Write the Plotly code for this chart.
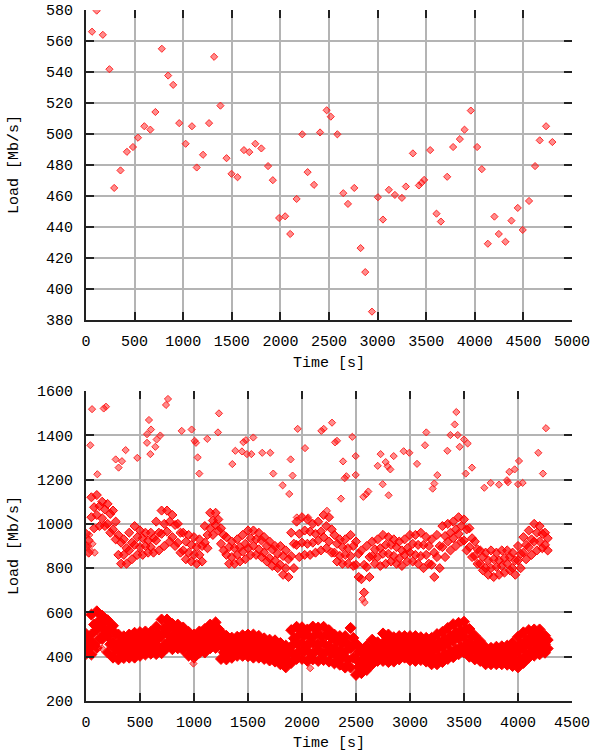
import plotly.graph_objects as go

# ---------------- top chart data ----------------
top_time = [62, 110, 173, 241, 290, 355, 421, 483, 535, 600, 662, 714, 780, 845, 897, 959,
            1025, 1090, 1139, 1204, 1266, 1318, 1383, 1446, 1497, 1559, 1625, 1680, 1742, 1804,
            1873, 1922, 1987, 2049, 2101, 2167, 2225, 2280, 2346, 2408, 2476, 2518, 2586, 2647,
            2695, 2760, 2825, 2873, 2942, 3003, 3055, 3116, 3178, 3250, 3291, 3363, 3425, 3452,
            3479, 3541, 3606, 3651, 3716, 3777, 3846, 3894, 3959, 4024, 4072, 4134, 4202, 4247,
            4315, 4377, 4442, 4493, 4558, 4620, 4668, 4733, 4798]
top_load = [566, 579.6, 564, 541.8, 465.2, 476.5, 488.5, 491.6, 497.6, 505, 502.8, 514.2, 555,
            537.7, 531.7, 507, 493.7, 505, 478.4, 486.6, 507, 549.8, 518.3, 484.4, 474.3, 472.1,
            489.6, 488.3, 493.7, 490.7, 479.3, 470.2, 445.8, 446.9, 435.5, 458.1, 499.8, 475.4,
            467.2, 501, 515.3, 511.2, 499.8, 461.8, 454.9, 465.2, 426.4, 410.9, 385.4, 459.2,
            444.8, 464, 460.7, 458.8, 466.1, 487.5, 466.8, 468.5, 470.4, 489.6, 448.6, 443.5,
            472.4, 491.6, 496.7, 502.8, 515.1, 491.6, 477.3, 429.2, 446.7, 435.5, 430.5, 444.1,
            452.3, 438.1, 456.8, 479.3, 495.9, 505, 494.8]

# ---------------- bottom chart data ----------------
# sample times (s) of the banded measurements, every 50 s
band_time = list(range(0, 4251, 50))
band_time_off = [t + 25 for t in band_time]

low_top = [503, 590, 605, 585, 565, 540, 500, 492, 500, 508,
           511, 514, 512, 535, 568, 568, 548, 545, 532, 512,
           500, 514, 525, 545, 555, 512, 494, 486, 490, 497,
           500, 500, 494, 483, 477, 474, 462, 450, 520, 535,
           533, 523, 536, 532, 535, 520, 500, 493, 493, 530,
           460, 435, 450, 477, 465, 505, 500, 488, 493, 493,
           493, 493, 488, 485, 485, 502, 512, 530, 547, 553,
           558, 525, 495, 470, 442, 440, 445, 447, 450, 463,
           490, 510, 520, 523, 523, 495]
low_2 = [480, 545, 564, 559, 529, 504, 472, 468, 474, 480,
         484, 488, 488, 504, 530, 536, 520, 518, 506, 485,
         474, 490, 498, 518, 526, 482, 468, 463, 468, 474,
         476, 474, 470, 460, 454, 450, 438, 426, 483, 499,
         497, 488, 499, 494, 497, 484, 468, 461, 458, 485,
         424, 408, 422, 449, 444, 474, 469, 460, 467, 469,
         466, 465, 462, 458, 455, 468, 478, 495, 510, 518,
         523, 494, 468, 448, 423, 422, 425, 427, 429, 437,
         456, 476, 489, 493, 495, 476]
low_3 = [458, 500, 523, 533, 492, 468, 444, 443, 448, 452,
         458, 462, 463, 474, 492, 504, 491, 492, 481, 458,
         448, 466, 472, 492, 498, 451, 441, 440, 447, 450,
         451, 448, 445, 436, 430, 426, 414, 401, 446, 462,
         462, 452, 462, 456, 460, 449, 435, 428, 422, 440,
         389, 380, 395, 422, 423, 443, 438, 433, 440, 444,
         438, 437, 436, 432, 426, 434, 444, 460, 472, 482,
         488, 462, 442, 426, 404, 403, 406, 406, 407, 410,
         421, 441, 458, 464, 467, 456]
low_4 = [435, 455, 481, 506, 456, 432, 416, 418, 422, 424,
         431, 436, 438, 443, 454, 472, 462, 465, 456, 432,
         422, 442, 446, 465, 469, 420, 414, 418, 426, 427,
         426, 422, 420, 413, 406, 402, 390, 376, 409, 426,
         426, 416, 425, 419, 422, 414, 402, 396, 386, 396,
         354, 353, 368, 394, 402, 412, 407, 406, 414, 420,
         411, 409, 411, 405, 396, 400, 410, 425, 435, 446,
         454, 431, 415, 403, 385, 384, 386, 386, 386, 384,
         386, 407, 427, 434, 439, 437]
low_bot = [412, 410, 440, 480, 419, 396, 388, 394, 396, 396,
           404, 410, 414, 412, 416, 440, 434, 438, 430, 405,
           396, 418, 419, 438, 440, 390, 388, 395, 404, 404,
           402, 396, 396, 390, 383, 378, 366, 352, 372, 390,
           390, 381, 388, 381, 385, 378, 370, 364, 351, 351,
           318, 326, 340, 366, 381, 381, 376, 378, 388, 396,
           384, 381, 385, 378, 366, 366, 376, 390, 398, 411,
           419, 400, 388, 381, 366, 366, 366, 366, 364, 358,
           352, 372, 396, 405, 411, 418]

mid_top = [955, 1120, 1130, 1100, 1090, 1060, 950, 930, 960, 990,
           970, 960, 960, 1010, 1060, 1060, 1040, 1000, 960, 950,
           940, 930, 990, 1050, 1050, 980, 940, 920, 930, 950,
           970, 970, 960, 940, 920, 900, 900, 880, 960, 1010,
           1030, 1020, 1000, 1010, 1040, 1030, 950, 930, 930, 950,
           920, 880, 900, 920, 930, 950, 940, 930, 920, 930,
           950, 950, 960, 940, 930, 950, 990, 1000, 1010, 1030,
           1020, 980, 920, 880, 870, 880, 870, 880, 880, 870,
           900, 940, 970, 1000, 990, 960]
mid_2 = [925, 1075, 1080, 1065, 1045, 1010, 915, 890, 915, 940,
         935, 925, 935, 960, 1000, 1010, 995, 960, 920, 905,
         895, 900, 950, 1015, 1020, 950, 895, 890, 895, 910,
         935, 930, 925, 900, 885, 865, 855, 840, 910, 955,
         970, 965, 955, 965, 990, 975, 910, 895, 890, 900,
         865, 815, 850, 885, 890, 905, 905, 895, 880, 890,
         910, 905, 905, 900, 870, 900, 945, 960, 975, 990,
         975, 935, 885, 850, 835, 840, 835, 845, 850, 835,
         865, 905, 930, 960, 955, 935]
mid_3 = [900, 1030, 1040, 1025, 1000, 975, 860, 860, 880, 905,
         895, 900, 895, 925, 955, 965, 940, 915, 880, 870,
         860, 860, 915, 980, 995, 910, 860, 850, 860, 875,
         890, 900, 885, 870, 845, 835, 815, 800, 855, 905,
         915, 910, 915, 925, 940, 920, 870, 855, 860, 855,
         815, 750, 805, 855, 850, 865, 865, 855, 845, 860,
         870, 860, 855, 860, 815, 850, 895, 920, 935, 955,
         925, 895, 855, 820, 800, 800, 805, 810, 820, 800,
         835, 870, 895, 920, 920, 905]
mid_bot = [870, 980, 990, 990, 960, 930, 820, 820, 840, 860,
           860, 870, 870, 880, 900, 920, 900, 870, 840, 830,
           820, 830, 890, 950, 970, 880, 820, 820, 830, 840,
           860, 860, 850, 830, 810, 800, 770, 760, 800, 850,
           860, 860, 870, 880, 890, 870, 830, 820, 820, 810,
           760, 690, 760, 820, 810, 820, 830, 820, 810, 830,
           830, 820, 800, 820, 760, 800, 850, 880, 900, 920,
           880, 850, 820, 790, 770, 760, 770, 780, 790, 770,
           800, 840, 860, 880, 890, 880]

extra_time = [20, 40, 60, 80, 30, 150, 995, 2076, 1952, 2057, 2231, 2560, 2580]
extra_load = [900, 880, 910, 870, 950, 437, 369, 348, 1029, 1029, 1059, 660, 645]

peak_time = [40, 56, 105, 164, 185, 275, 302, 333, 367, 475, 565, 583, 602, 565, 596, 642, 654,
             688, 741, 759, 886, 978, 1006, 1018, 1034, 1049, 1123, 1231, 1222, 1355, 1383, 1444,
             1457, 1481, 1490, 1531, 1549, 1632, 1706, 1734, 1821, 1882, 1895, 1913, 1960, 2028,
             2179, 2201, 2278, 2306, 2324, 2361, 2380, 2395, 2411, 2466, 2497, 2497, 2568, 2593,
             2614, 2701, 2728, 2747, 2775, 2793, 2818, 2802, 2849, 2941, 2994, 3065, 3139, 3151,
             3210, 3225, 3253, 3346, 3374, 3414, 3429, 3442, 3460, 3500, 3534, 3516, 3574, 3688,
             3747, 3824, 3898, 3907, 3920, 3969, 4009, 4000, 4043, 4188, 4231, 4259]
peak_load = [1355, 1518, 1224, 1521, 1529, 1291, 1254, 1283, 1333, 1298, 1405, 1469, 1426, 1366,
             1315, 1348, 1381, 1399, 1537, 1564, 1420, 1426, 1375, 1366, 1300, 1227, 1384, 1499,
             1413, 1270, 1330, 1327, 1369, 1378, 1315, 1315, 1390, 1321, 1321, 1227, 1174, 1135,
             1291, 1218, 1429, 1342, 1420, 1429, 1457, 1368, 1375, 1114, 1282, 1206, 1215, 1393,
             1306, 1221, 1122, 1133, 1146, 1262, 1315, 1179, 1279, 1260, 1246, 1129, 1306, 1328,
             1321, 1271, 1355, 1413, 1159, 1182, 1220, 1330, 1401, 1449, 1505, 1401, 1348, 1381,
             1363, 1227, 1254, 1163, 1185, 1177, 1197, 1188, 1235, 1246, 1284, 1179, 1185, 1321,
             1227, 1432]

top_xticks = [0, 500, 1000, 1500, 2000, 2500, 3000, 3500, 4000, 4500, 5000]
top_yticks = [380, 400, 420, 440, 460, 480, 500, 520, 540, 560, 580]
bot_xticks = [0, 500, 1000, 1500, 2000, 2500, 3000, 3500, 4000, 4500]
bot_yticks = [200, 400, 600, 800, 1000, 1200, 1400, 1600]

# ---------------- styling ----------------
W, H = 598, 754
FONT = dict(family="Liberation Mono, DejaVu Sans Mono, monospace", size=15, color="black")
MARK = dict(symbol="diamond", size=5.5, color="rgba(255,0,0,0.45)",
            line=dict(color="rgb(255,40,40)", width=1))
MID = dict(symbol="diamond", size=7, color="rgba(255,0,0,0.7)",
           line=dict(color="rgb(255,0,0)", width=1))
LOW = dict(symbol="diamond", size=8.5, color="rgb(255,0,0)",
           line=dict(color="rgb(255,0,0)", width=1))
GRID = "#b4b4b4"

fig = go.Figure()

def add(x, y, xa, ya, mk):
    fig.add_trace(go.Scatter(x=x, y=y, mode="markers", marker=mk, xaxis=xa, yaxis=ya,
                             showlegend=False, hoverinfo="skip"))

add(top_time, top_load, "x", "y", MARK)
for xs, ys in [(band_time, mid_top), (band_time_off, mid_2), (band_time, mid_3),
               (band_time_off, mid_bot)]:
    add(xs, ys, "x2", "y2", MID)
for xs, ys in [(band_time, low_top), (band_time_off, low_2), (band_time, low_3),
               (band_time_off, low_4), (band_time, low_bot)]:
    add(xs, ys, "x2", "y2", LOW)
add(extra_time, extra_load, "x2", "y2", MARK)
add(peak_time, peak_load, "x2", "y2", MARK)

xd = [86 / W, 572 / W]
top_dom = [1 - 320 / H, 1 - 10 / H]
bot_dom = [1 - 701 / H, 1 - 391 / H]

def xaxis(rng, ticks, dom_anchor):
    return dict(domain=xd, range=rng, tickvals=ticks, ticktext=[str(t) for t in ticks],
                showgrid=True, gridcolor=GRID, gridwidth=1.5, zeroline=False,
                showline=True, linecolor="#222", linewidth=2, ticks="inside", ticklen=8,
                tickwidth=2, tickcolor="#222", tickfont=FONT, ticklabelstandoff=6,
                anchor=dom_anchor, fixedrange=True, automargin=False)

def yaxis(rng, ticks, dom, anchor):
    return dict(domain=dom, range=rng, tickvals=ticks, ticktext=[str(t) for t in ticks],
                showgrid=True, gridcolor=GRID, gridwidth=1.5, zeroline=False,
                showline=True, linecolor="#222", linewidth=2, ticks="inside", ticklen=8,
                tickwidth=2, tickcolor="#222", tickfont=FONT, ticklabelstandoff=8,
                anchor=anchor, fixedrange=True, automargin=False)

def mirror_x(rng, ticks, overl, anchor):
    return dict(domain=xd, range=rng, tickvals=ticks, overlaying=overl, side="top",
                anchor=anchor, showgrid=False, zeroline=False, showline=False,
                showticklabels=False, ticks="inside", ticklen=8, tickwidth=2,
                tickcolor="#222", fixedrange=True, automargin=False)

def mirror_y(rng, ticks, overl, anchor):
    return dict(range=rng, tickvals=ticks, overlaying=overl, side="right", anchor=anchor,
                showgrid=False, zeroline=False, showline=False, showticklabels=False,
                ticks="inside", ticklen=8, tickwidth=2, tickcolor="#222", fixedrange=True,
                automargin=False)

fig.update_layout(
    width=W, height=H, margin=dict(l=0, r=0, t=0, b=0),
    paper_bgcolor="white", plot_bgcolor="white", showlegend=False,
    xaxis=xaxis([0, 5000], top_xticks, "y"),
    yaxis=yaxis([380, 580], top_yticks, top_dom, "x"),
    xaxis2=xaxis([0, 4500], bot_xticks, "y2"),
    yaxis2=yaxis([200, 1600], bot_yticks, bot_dom, "x2"),
    xaxis3=mirror_x([0, 5000], top_xticks, "x", "y3"),
    yaxis3=mirror_y([380, 580], top_yticks, "y", "x3"),
    xaxis4=mirror_x([0, 4500], bot_xticks, "x2", "y4"),
    yaxis4=mirror_y([200, 1600], bot_yticks, "y2", "x4"),
)
fig.layout.yaxis3.domain = top_dom
fig.layout.yaxis4.domain = bot_dom

# invisible traces so mirrored tick axes are drawn
fig.add_trace(go.Scatter(x=[], y=[], xaxis="x3", yaxis="y3", showlegend=False))
fig.add_trace(go.Scatter(x=[], y=[], xaxis="x4", yaxis="y4", showlegend=False))

cx = (xd[0] + xd[1]) / 2
for ytxt in [1 - 363 / H, 1 - 743 / H]:
    fig.add_annotation(text="Time [s]", xref="paper", yref="paper", x=cx, y=ytxt,
                       showarrow=False, font=FONT, xanchor="center", yanchor="middle")
for dom in [top_dom, bot_dom]:
    fig.add_annotation(text="Load [Mb/s]", xref="paper", yref="paper", x=14 / W,
                       y=(dom[0] + dom[1]) / 2, textangle=-90, showarrow=False, font=FONT,
                       xanchor="center", yanchor="middle")

fig.write_html("out.html", config={"displayModeBar": False},
               post_script="document.body.style.margin='0';")
